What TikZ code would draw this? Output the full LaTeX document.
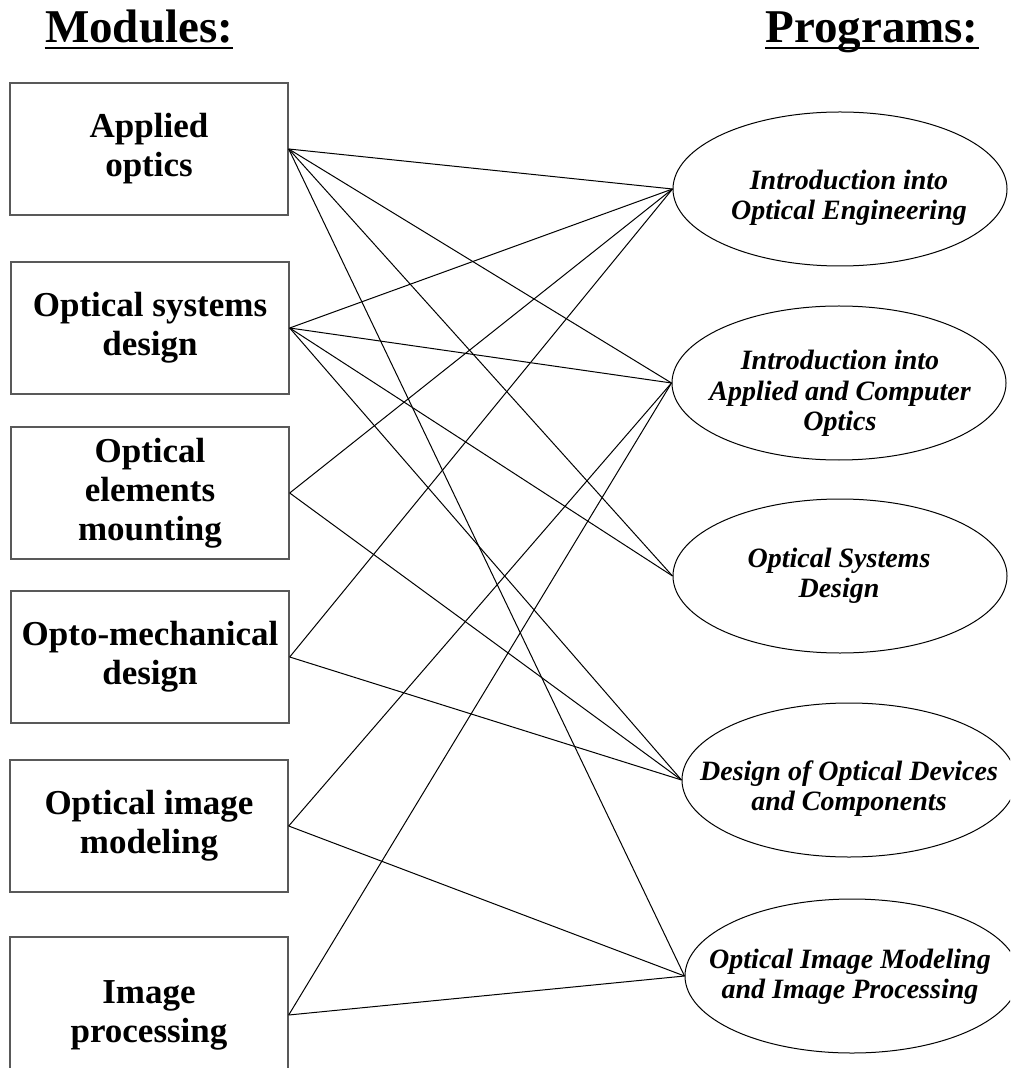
\documentclass[tikz,border=0pt]{standalone}
\usepackage{fontspec}
\setmainfont{Liberation Serif}
\usetikzlibrary{shapes.geometric}

\begin{document}
\begin{tikzpicture}[x=0.5pt, y=-0.5pt,
  module/.style={rectangle, draw=black!65, line width=0.7pt, minimum width=139pt, minimum height=66pt, inner sep=0pt, align=center, font=\fontsize{17.5}{19.5}\selectfont\bfseries},
  program/.style={ellipse, draw, line width=0.5pt, minimum width=167pt, minimum height=77pt, inner sep=0pt},
  progtext/.style={inner sep=0pt, anchor=base, align=center, font=\fontsize{14}{15}\selectfont\bfseries\itshape},
  heading/.style={inner sep=0pt, anchor=base, font=\fontsize{23.5}{28}\selectfont\bfseries},
  link/.style={line width=0.5pt}]
\path[use as bounding box, clip] (0,0) rectangle (1010,1068);

% Headings
\node[heading] (modhead) at (139,43) {Modules:};
\node[heading] (proghead) at (872,43) {Programs:};
\draw[line width=1pt] ([yshift=-2.5pt]modhead.base west) -- ([yshift=-2.5pt]modhead.base east);
\draw[line width=1pt] ([yshift=-2.5pt]proghead.base west) -- ([yshift=-2.5pt]proghead.base east);

% Modules
\node[module] (mod1) at (149,149) {Applied\\optics};
\node[module] (mod2) at (150,328) {Optical systems\\design};
\node[module] (mod3) at (150,493) {Optical\\elements\\mounting};
\node[module] (mod4) at (150,657) {Opto-mechanical\\design};
\node[module] (mod5) at (149,826) {Optical image\\modeling};
\node[module, minimum height=78pt] (mod6) at (149,1015) {Image\\processing};

% Programs
\node[program] (prog1) at (840,189) {};
\node[program] (prog2) at (839,383) {};
\node[program] (prog3) at (840,576) {};
\node[program] (prog4) at (849,780) {};
\node[program] (prog5) at (852,976) {};
\node[progtext] (txt1) at (849,220) {Introduction into\\Optical Engineering};
\node[progtext] (txt2) at (840,430) {Introduction into\\Applied and Computer\\Optics};
\node[progtext] (txt3) at (839,597) {Optical Systems\\Design};
\node[progtext] (txt4) at (849,810) {Design of Optical Devices\\and Components};
\node[progtext] (txt5) at (850,998) {Optical Image Modeling\\and Image Processing};

% Applied optics
\draw[link] (mod1.east) -- (prog1.west);
\draw[link] (mod1.east) -- (prog2.west);
\draw[link] (mod1.east) -- (prog3.west);
\draw[link] (mod1.east) -- (prog5.west);

% Optical systems design
\draw[link] (mod2.east) -- (prog1.west);
\draw[link] (mod2.east) -- (prog2.west);
\draw[link] (mod2.east) -- (prog3.west);
\draw[link] (mod2.east) -- (prog4.west);

% Optical elements mounting
\draw[link] (mod3.east) -- (prog1.west);
\draw[link] (mod3.east) -- (prog4.west);

% Opto-mechanical design
\draw[link] (mod4.east) -- (prog1.west);
\draw[link] (mod4.east) -- (prog4.west);

% Optical image modeling
\draw[link] (mod5.east) -- (prog2.west);
\draw[link] (mod5.east) -- (prog5.west);

% Image processing
\draw[link] (mod6.east) -- (prog2.west);
\draw[link] (mod6.east) -- (prog5.west);
\end{tikzpicture}
\end{document}
